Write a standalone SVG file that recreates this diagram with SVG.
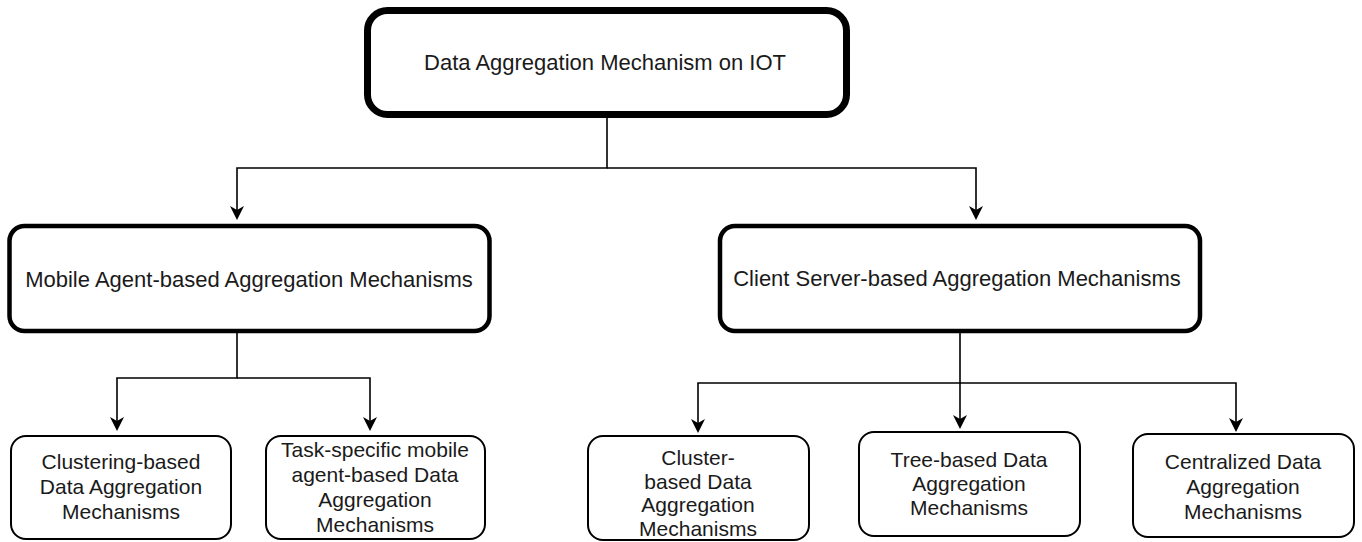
<svg xmlns="http://www.w3.org/2000/svg" width="1362" height="542" viewBox="0 0 1362 542">
<style>
  .box { fill: #ffffff; stroke: #000000; }
  .b0 { stroke-width: 7; }
  .b1 { stroke-width: 4.5; }
  .b2 { stroke-width: 2; }
  .t { font-family: "Liberation Sans", Arial, sans-serif; fill: #1a1a1a; text-anchor: middle; }
  .big { font-size: 22px; }
  .small { font-size: 21px; }
  .edge { fill: none; stroke: #000000; stroke-width: 1.6; }
</style>
<defs>
  <marker id="arrow" viewBox="-5 -8 16 16" refX="0" refY="0" markerWidth="16" markerHeight="16" markerUnits="userSpaceOnUse" orient="auto">
    <path d="M10,0 L-4,-7 L0,0 L-4,7 Z" fill="#000000"/>
  </marker>
</defs>
<rect width="1362" height="542" fill="#ffffff"/>

<g id="edges">
  <path class="edge" d="M607,118 V168 H237 V210" marker-end="url(#arrow)"/>
  <path class="edge" d="M607,168 H976 V210" marker-end="url(#arrow)"/>
  <path class="edge" d="M237,333 V378 H117 V421" marker-end="url(#arrow)"/>
  <path class="edge" d="M237,378 H370 V421" marker-end="url(#arrow)"/>
  <path class="edge" d="M960,333 V383 H698 V423" marker-end="url(#arrow)"/>
  <path class="edge" d="M960,383 V419" marker-end="url(#arrow)"/>
  <path class="edge" d="M960,383 H1236 V422" marker-end="url(#arrow)"/>
</g>

<g id="root">
  <rect class="box b0" x="367.5" y="10.5" width="479" height="104" rx="20"/>
  <text class="t big" x="605" y="70">Data Aggregation Mechanism on IOT</text>
</g>

<g id="mobile">
  <rect class="box b1" x="9.5" y="226" width="480" height="105" rx="15"/>
  <text class="t big" x="249" y="287">Mobile Agent-based Aggregation Mechanisms</text>
</g>

<g id="client">
  <rect class="box b1" x="720" y="226" width="480" height="105" rx="15"/>
  <text class="t big" x="957" y="286">Client Server-based Aggregation Mechanisms</text>
</g>

<g id="clustering">
  <rect class="box b2" x="11" y="436" width="220" height="103" rx="15"/>
  <text class="t small" x="121" y="469">Clustering-based</text>
  <text class="t small" x="121" y="494">Data Aggregation</text>
  <text class="t small" x="121" y="519">Mechanisms</text>
</g>

<g id="task">
  <rect class="box b2" x="266" y="436" width="219" height="103" rx="15"/>
  <text class="t small" x="375" y="457">Task-specific mobile</text>
  <text class="t small" x="375" y="482">agent-based Data</text>
  <text class="t small" x="375" y="507">Aggregation</text>
  <text class="t small" x="375" y="532">Mechanisms</text>
</g>

<g id="cluster">
  <rect class="box b2" x="588" y="436" width="221" height="104" rx="15"/>
  <text class="t small" x="698" y="465">Cluster-</text>
  <text class="t small" x="698" y="489">based Data</text>
  <text class="t small" x="698" y="512">Aggregation</text>
  <text class="t small" x="698" y="536">Mechanisms</text>
</g>

<g id="tree">
  <rect class="box b2" x="859" y="432" width="221" height="104" rx="15"/>
  <text class="t small" x="969" y="467">Tree-based Data</text>
  <text class="t small" x="969" y="491">Aggregation</text>
  <text class="t small" x="969" y="515">Mechanisms</text>
</g>

<g id="centralized">
  <rect class="box b2" x="1133" y="434" width="221" height="103" rx="15"/>
  <text class="t small" x="1243" y="469">Centralized Data</text>
  <text class="t small" x="1243" y="494">Aggregation</text>
  <text class="t small" x="1243" y="519">Mechanisms</text>
</g>
</svg>
